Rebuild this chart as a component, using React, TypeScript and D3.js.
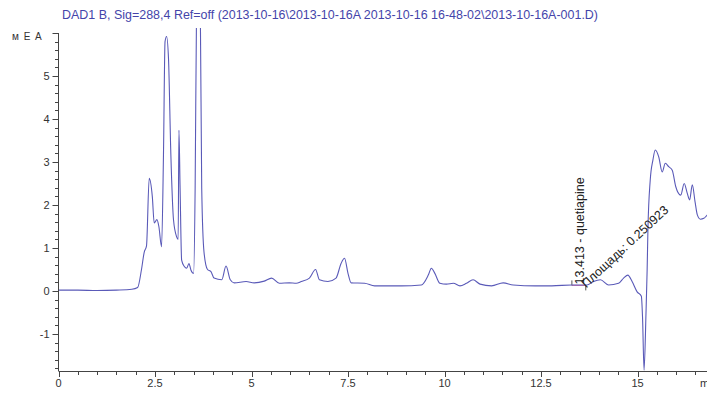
import React, { useRef, useEffect } from "react";
import * as d3 from "d3";

// chromatogram: retention time (min) and signal (mAU)
const times = [
  0, 0.5, 1, 1.5, 1.9, 2.05, 2.15, 2.22, 2.28, 2.35, 2.43, 2.48, 2.55, 2.6,
  2.67, 2.72, 2.76, 2.8, 2.85, 2.91, 2.98, 3.06, 3.1, 3.12, 3.15, 3.19, 3.26,
  3.32, 3.38, 3.43, 3.5, 3.54, 3.575, 3.625, 3.675, 3.71, 3.77, 3.86, 3.95, 4.03,
  4.23, 4.34, 4.45, 4.55, 4.86, 5.07, 5.33, 5.52, 5.72, 5.98, 6.16, 6.29, 6.5,
  6.66, 6.76, 6.98, 7.19, 7.32, 7.41, 7.5, 7.58, 7.93, 8.19, 8.88, 9.4, 9.58,
  9.66, 9.75, 9.88, 10.05, 10.23, 10.4, 10.57, 10.74, 10.92, 11.22, 11.52,
  11.78, 12.35, 12.78, 13.3, 13.69, 13.86, 14.04, 14.25, 14.51, 14.64, 14.75,
  14.86, 14.99, 15.1, 15.13, 15.17, 15.22, 15.25, 15.27, 15.33, 15.4, 15.46,
  15.55, 15.64, 15.72, 15.81, 15.9, 15.99, 16.12, 16.21, 16.29, 16.35, 16.42,
  16.49, 16.55, 16.63, 16.72, 16.81, 16.9,
];
const signal = [
  0.02, 0.02, 0.01, 0.02, 0.04, 0.08, 0.5, 0.9, 1.05, 2.62, 2.2, 1.58, 1.66,
  1.5, 1.03, 3.2, 5.8, 5.92, 5.4, 3.2, 1.65, 1.26, 1.2, 3.74, 2.4, 0.72, 0.57,
  0.53, 0.64, 0.49, 0.41, 2.4, 6.4, 7.6, 6.4, 2.4, 0.9, 0.5, 0.45, 0.3, 0.26, 0.58,
  0.26, 0.19, 0.22, 0.19, 0.23, 0.3, 0.18, 0.19, 0.18, 0.22, 0.3, 0.5, 0.26,
  0.22, 0.3, 0.64, 0.76, 0.41, 0.19, 0.18, 0.12, 0.12, 0.14, 0.37, 0.53, 0.41,
  0.18, 0.16, 0.18, 0.12, 0.18, 0.26, 0.16, 0.12, 0.19, 0.14, 0.12, 0.12,
  0.14, 0.14, 0.22, 0.26, 0.14, 0.18, 0.3, 0.37, 0.22, -0.02, -0.12, -0.6,
  -1.84, -0.52, 0.5, 1.42, 2.58, 3.05, 3.28, 3.12, 2.77, 2.97, 2.89, 2.81,
  2.43, 2.23, 2.5, 2.27, 2.12, 2.47, 2.08, 1.77, 1.67, 1.69, 1.77, 1.81,
];

const xTicks = [0, 2.5, 5, 7.5, 10, 12.5, 15];
const yTicks = [-1, 0, 1, 2, 3, 4, 5];

const title =
  "DAD1 B, Sig=288,4 Ref=off (2013-10-16\\2013-10-16A 2013-10-16 16-48-02\\2013-10-16A-001.D)";
const peakTime = 13.413;
const peakName = "quetiapine";
const peakArea = 0.250923;
const integration = [13.3, 13.66];

const App = () => {
  const svgRef = useRef<SVGSVGElement>(null);

  useEffect(() => {
    document.body.style.margin = "0";
    const svg = d3.select(svgRef.current);
    svg.selectAll("*").remove();

    const width = 707;
    const left = 58.5;
    const top = 33;
    const bottom = 371;

    const x = d3.scaleLinear().domain([0, 15]).range([left, 637.5]);
    const y = d3.scaleLinear().domain([0, 5]).range([291, 76]);

    const axisColor = "#444";
    const font = "Arial, 'Liberation Sans', sans-serif";

    // title
    svg
      .append("text")
      .attr("x", 62)
      .attr("y", 19)
      .attr("fill", "#4444aa")
      .attr("font-family", font)
      .attr("font-size", 12)
      .attr("textLength", 536)
      .attr("lengthAdjust", "spacingAndGlyphs")
      .text(title);

    // clip for the trace
    svg
      .append("defs")
      .append("clipPath")
      .attr("id", "plot")
      .append("rect")
      .attr("x", left)
      .attr("y", 28)
      .attr("width", width - left)
      .attr("height", bottom - 28);

    const data = times.map((t, i) => [t, signal[i]] as [number, number]);
    const line = d3
      .line<[number, number]>()
      .x((d) => x(d[0]))
      .y((d) => y(d[1]))
      .curve(d3.curveMonotoneX);

    // integration baseline + markers
    const iy = y(0.13);
    svg
      .append("line")
      .attr("x1", x(integration[0]))
      .attr("x2", x(integration[1]))
      .attr("y1", iy)
      .attr("y2", iy)
      .attr("stroke", "#e070a8")
      .attr("stroke-width", 1);
    svg
      .append("line")
      .attr("x1", x(integration[0]))
      .attr("x2", x(integration[0]))
      .attr("y1", iy - 5)
      .attr("y2", iy)
      .attr("stroke", "#555");
    svg
      .append("line")
      .attr("x1", x(integration[1]))
      .attr("x2", x(integration[1]))
      .attr("y1", iy)
      .attr("y2", iy + 5)
      .attr("stroke", "#555");

    svg
      .append("path")
      .datum(data)
      .attr("clip-path", "url(#plot)")
      .attr("fill", "none")
      .attr("stroke", "#5a5ab8")
      .attr("stroke-width", 1.1)
      .attr("d", line);

    // peak labels
    svg
      .append("text")
      .attr("transform", `translate(${x(peakTime) + 7.5},${iy - 1}) rotate(-90)`)
      .attr("font-family", font)
      .attr("font-size", 12.5)
      .attr("fill", "#222")
      .text(`${peakTime} - ${peakName}`);
    svg
      .append("text")
      .attr("transform", `translate(${x(peakTime) + 10},${iy + 3}) rotate(-43)`)
      .attr("font-family", font)
      .attr("font-size", 12.5)
      .attr("fill", "#222")
      .text(`Площадь: ${peakArea}`);

    // y axis
    const ya = svg.append("g").attr("stroke", axisColor).attr("stroke-width", 1);
    ya.append("line")
      .attr("x1", left)
      .attr("x2", left)
      .attr("y1", top)
      .attr("y2", bottom);
    ya.append("line")
      .attr("x1", left - 6)
      .attr("x2", left)
      .attr("y1", top + 0.5)
      .attr("y2", top + 0.5);
    d3.range(-9, 30).forEach((k) => {
      const v = k * 0.2;
      const major = k % 5 === 0;
      ya.append("line")
        .attr("x1", left - (major ? 6 : 3.5))
        .attr("x2", left)
        .attr("y1", Math.round(y(v)) + 0.5)
        .attr("y2", Math.round(y(v)) + 0.5);
    });
    svg
      .append("g")
      .selectAll("text")
      .data(yTicks)
      .join("text")
      .attr("x", left - 9)
      .attr("y", (d) => y(d) + 4)
      .attr("text-anchor", "end")
      .attr("font-family", font)
      .attr("font-size", 11)
      .attr("fill", "#333")
      .text((d) => d);
    svg
      .append("text")
      .attr("x", 12)
      .attr("y", 40)
      .attr("font-family", font)
      .attr("font-size", 10)
      .attr("letter-spacing", 1)
      .attr("fill", "#333")
      .text("м Е А");

    // x axis
    const xa = svg.append("g").attr("stroke", axisColor).attr("stroke-width", 1);
    xa.append("line")
      .attr("x1", left)
      .attr("x2", width)
      .attr("y1", bottom + 0.5)
      .attr("y2", bottom + 0.5);
    d3.range(0, 34).forEach((k) => {
      const t = k * 0.5;
      const major = k % 5 === 0;
      xa.append("line")
        .attr("x1", Math.round(x(t)) + 0.5)
        .attr("x2", Math.round(x(t)) + 0.5)
        .attr("y1", bottom)
        .attr("y2", bottom + (major ? 6 : 4));
    });
    svg
      .append("g")
      .selectAll("text")
      .data(xTicks)
      .join("text")
      .attr("x", (d) => x(d))
      .attr("y", bottom + 16)
      .attr("text-anchor", "middle")
      .attr("font-family", font)
      .attr("font-size", 11)
      .attr("fill", "#333")
      .text((d) => d);
    svg
      .append("text")
      .attr("x", 700)
      .attr("y", bottom + 16)
      .attr("font-family", font)
      .attr("font-size", 11)
      .attr("fill", "#333")
      .text("min");
  }, []);

  return <svg ref={svgRef} width={707} height={393} style={{ display: "block" }} />;
};

export default App;
